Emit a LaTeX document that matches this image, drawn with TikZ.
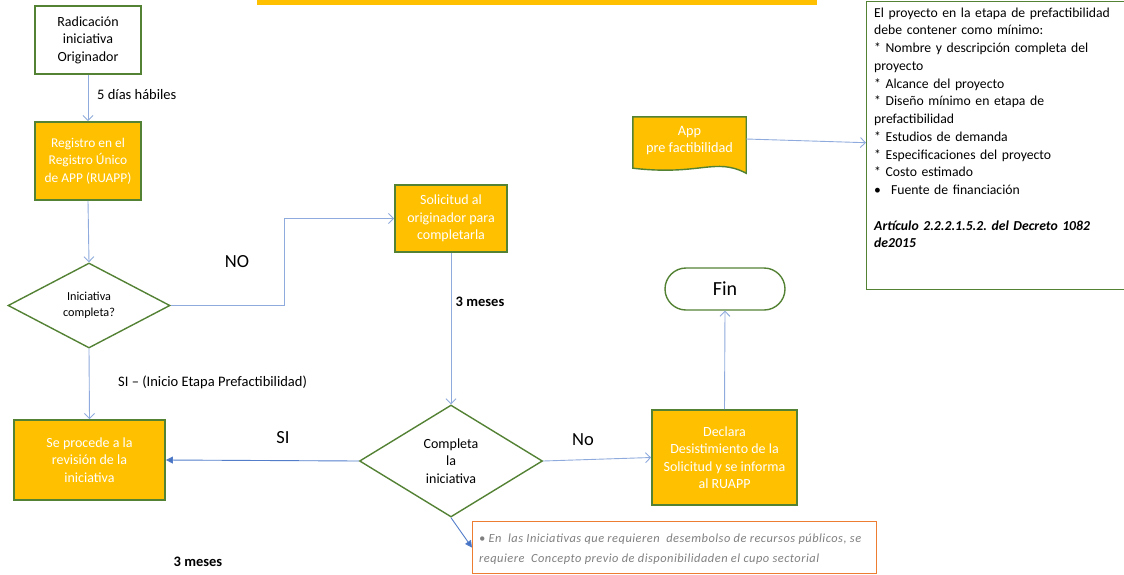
\documentclass[tikz,border=0pt]{standalone}
\usepackage{fontspec}
\setmainfont{Carlito}
\newfontfamily\notefont[LetterSpace=4]{Carlito}
\usetikzlibrary{shapes.geometric,arrows.meta}
\definecolor{amber}{HTML}{FFC000}
\definecolor{leaf}{HTML}{548235}
\definecolor{wire}{HTML}{8FAADC}
\definecolor{wiredark}{HTML}{4472C4}
\definecolor{rust}{HTML}{ED7D31}
\definecolor{note}{HTML}{7F7F7F}
\frenchspacing
\tikzset{
  procbox/.style={draw=leaf, line width=1.8pt, fill=amber, text=white, align=center,
    inner sep=2pt, font=\fontsize{14}{17.5}\selectfont},
  startbox/.style={procbox, fill=white, text=black},
  choice/.style={diamond, draw=leaf, line width=1.4pt, fill=white, inner sep=0pt,
    align=center},
  flow/.style={draw=wire, line width=0.9pt, -{Straight Barb[length=5pt,width=10pt]}},
  flowfill/.style={draw=wiredark!80!wire, line width=0.9pt, -{Triangle[length=7pt,width=7pt,fill=wiredark]}},
  lbl/.style={inner sep=0pt, font=\fontsize{14.5}{17}\selectfont},
  biglbl/.style={inner sep=0pt, font=\fontsize{18.5}{21}\selectfont},
  boldlbl/.style={inner sep=0pt, font=\fontsize{14.5}{17}\selectfont\bfseries},
}
\begin{document}
\begin{tikzpicture}[x=1pt,y=-1pt]
\useasboundingbox (0,0) rectangle (1124,574);

% banner strip along the top
\fill[amber] (257,0) rectangle (817,5);

% main flow
\node[startbox, minimum width=106, minimum height=68] (rad) at (88,40)
  {Radicación\\iniciativa\\Originador};
\node[procbox, minimum width=106, minimum height=78, font=\fontsize{13.4}{17.5}\selectfont] (reg) at (88,161)
  {Registro en el\\Registro Único\\de APP (RUAPP)};
\node[choice, minimum width=162, minimum height=85, font=\fontsize{12.2}{16.5}\selectfont] (d1) at (89,305.5)
  {Iniciativa\\completa?};
\node[procbox, minimum width=112, minimum height=67] (sol) at (451,218.5)
  {Solicitud al\\originador para\\completarla};
\node[choice, minimum width=183, minimum height=112, font=\fontsize{14}{17.5}\selectfont] (d2) at (451,461)
  {Completa\\la\\iniciativa};
\node[procbox, minimum width=151, minimum height=80] (proc) at (89.5,460)
  {Se procede a la\\revisión de la\\iniciativa};
\node[procbox, minimum width=145, minimum height=95] (decl) at (724.5,457.5)
  {Declara\\Desistimiento de la\\Solicitud y se informa\\al RUAPP};
\node[draw=leaf, line width=1.4pt, rounded corners=21pt, minimum width=120,
  minimum height=42, font=\fontsize{20}{23}\selectfont] (fin) at (725,289) {Fin};

% document-shaped box
\node[minimum width=113, minimum height=50, inner sep=0pt] (app) at (689.5,142) {};
\fill[amber, draw=leaf, line width=1.4pt]
  (app.north west) -- (app.north east) -- ([yshift=-6]app.south east)
  .. controls (715,157) and (700,176) .. ([yshift=-1]app.south west) -- cycle;
\node[inner sep=0pt, text=white, align=center,
  font=\fontsize{14.3}{17}\selectfont] (apptext) at (689.5,140.5) {App\\pre factibilidad};

% requirements panel
\node[draw=leaf, line width=1.4pt, anchor=north west, minimum width=270,
  minimum height=288, inner sep=0pt] (info) at (866,1) {};
\node[anchor=north west, align=left, inner sep=0pt, text width=250,
  font=\fontsize{13.7}{17.75}\selectfont] (infotext) at (874,7.5)
  {El proyecto en la etapa de prefactibilidad\\
   debe contener como mínimo:\\
   {*} Nombre y descripción completa del\\
   proyecto\\
   {*} Alcance del proyecto\\
   {*} Diseño mínimo en etapa de\\
   prefactibilidad\\
   {*} Estudios de demanda\\
   {*} Especificaciones del proyecto\\
   {*} Costo estimado\\
   •\hspace{10pt}Fuente de financiación\\[17.75pt]
   \textbf{\textit{Artículo 2.2.2.1.5.2. del Decreto 1082}}\\
   \textbf{\textit{de2015}}};

% note box
\node[draw=rust, line width=1.2pt, anchor=north west, minimum width=404,
  minimum height=52, inner sep=0pt] (nota) at (472,521) {};
\node[anchor=north west, align=left, inner sep=0pt, text=note,
  font=\notefont\fontsize{12.4}{20}\selectfont\itshape] (notatext) at (479,533.5)
  {• En\ \ las\ Iniciativas\ que\ requieren\ \ desembolso\ de\ recursos\ públicos,\ se\\
   requiere\ \ Concepto previo\ de\ disponibilidaden\ el\ cupo sectorial};

% connectors
\draw[flow] (rad.south) -- (reg.north);
\draw[flow] (reg.south) -- (d1.north);
\draw[flow] (d1.east) -| ([xshift=-110]sol.west) -- (sol.west);
\draw[flow] (d1.south) -- (proc.north);
\draw[flow] (sol.south) -- (d2.north);
\draw[flowfill] (d2.west) -- (proc.east);
\draw[flow] (d2.east) -- (decl.west);
\draw[flow] (decl.north) -- (fin.south);
\draw[flow] ([yshift=3]app.east) -- ([yshift=3]info.west);
\draw[flowfill] (d2.south) -- (nota.west);

% connector labels
\node[lbl, anchor=west] (l5d) at (97,95) {5 días hábiles};
\node[biglbl] (lno) at (237,262) {NO};
\node[lbl, anchor=west] (lsi1) at (118,382) {SI – (Inicio Etapa Prefactibilidad)};
\node[biglbl] (lsi2) at (283,438) {SI};
\node[biglbl] (lno2) at (583,440) {No};
\node[boldlbl] (l3m1) at (480,302) {3 meses};
\node[boldlbl] (l3m2) at (198,562) {3 meses};
\end{tikzpicture}
\end{document}
